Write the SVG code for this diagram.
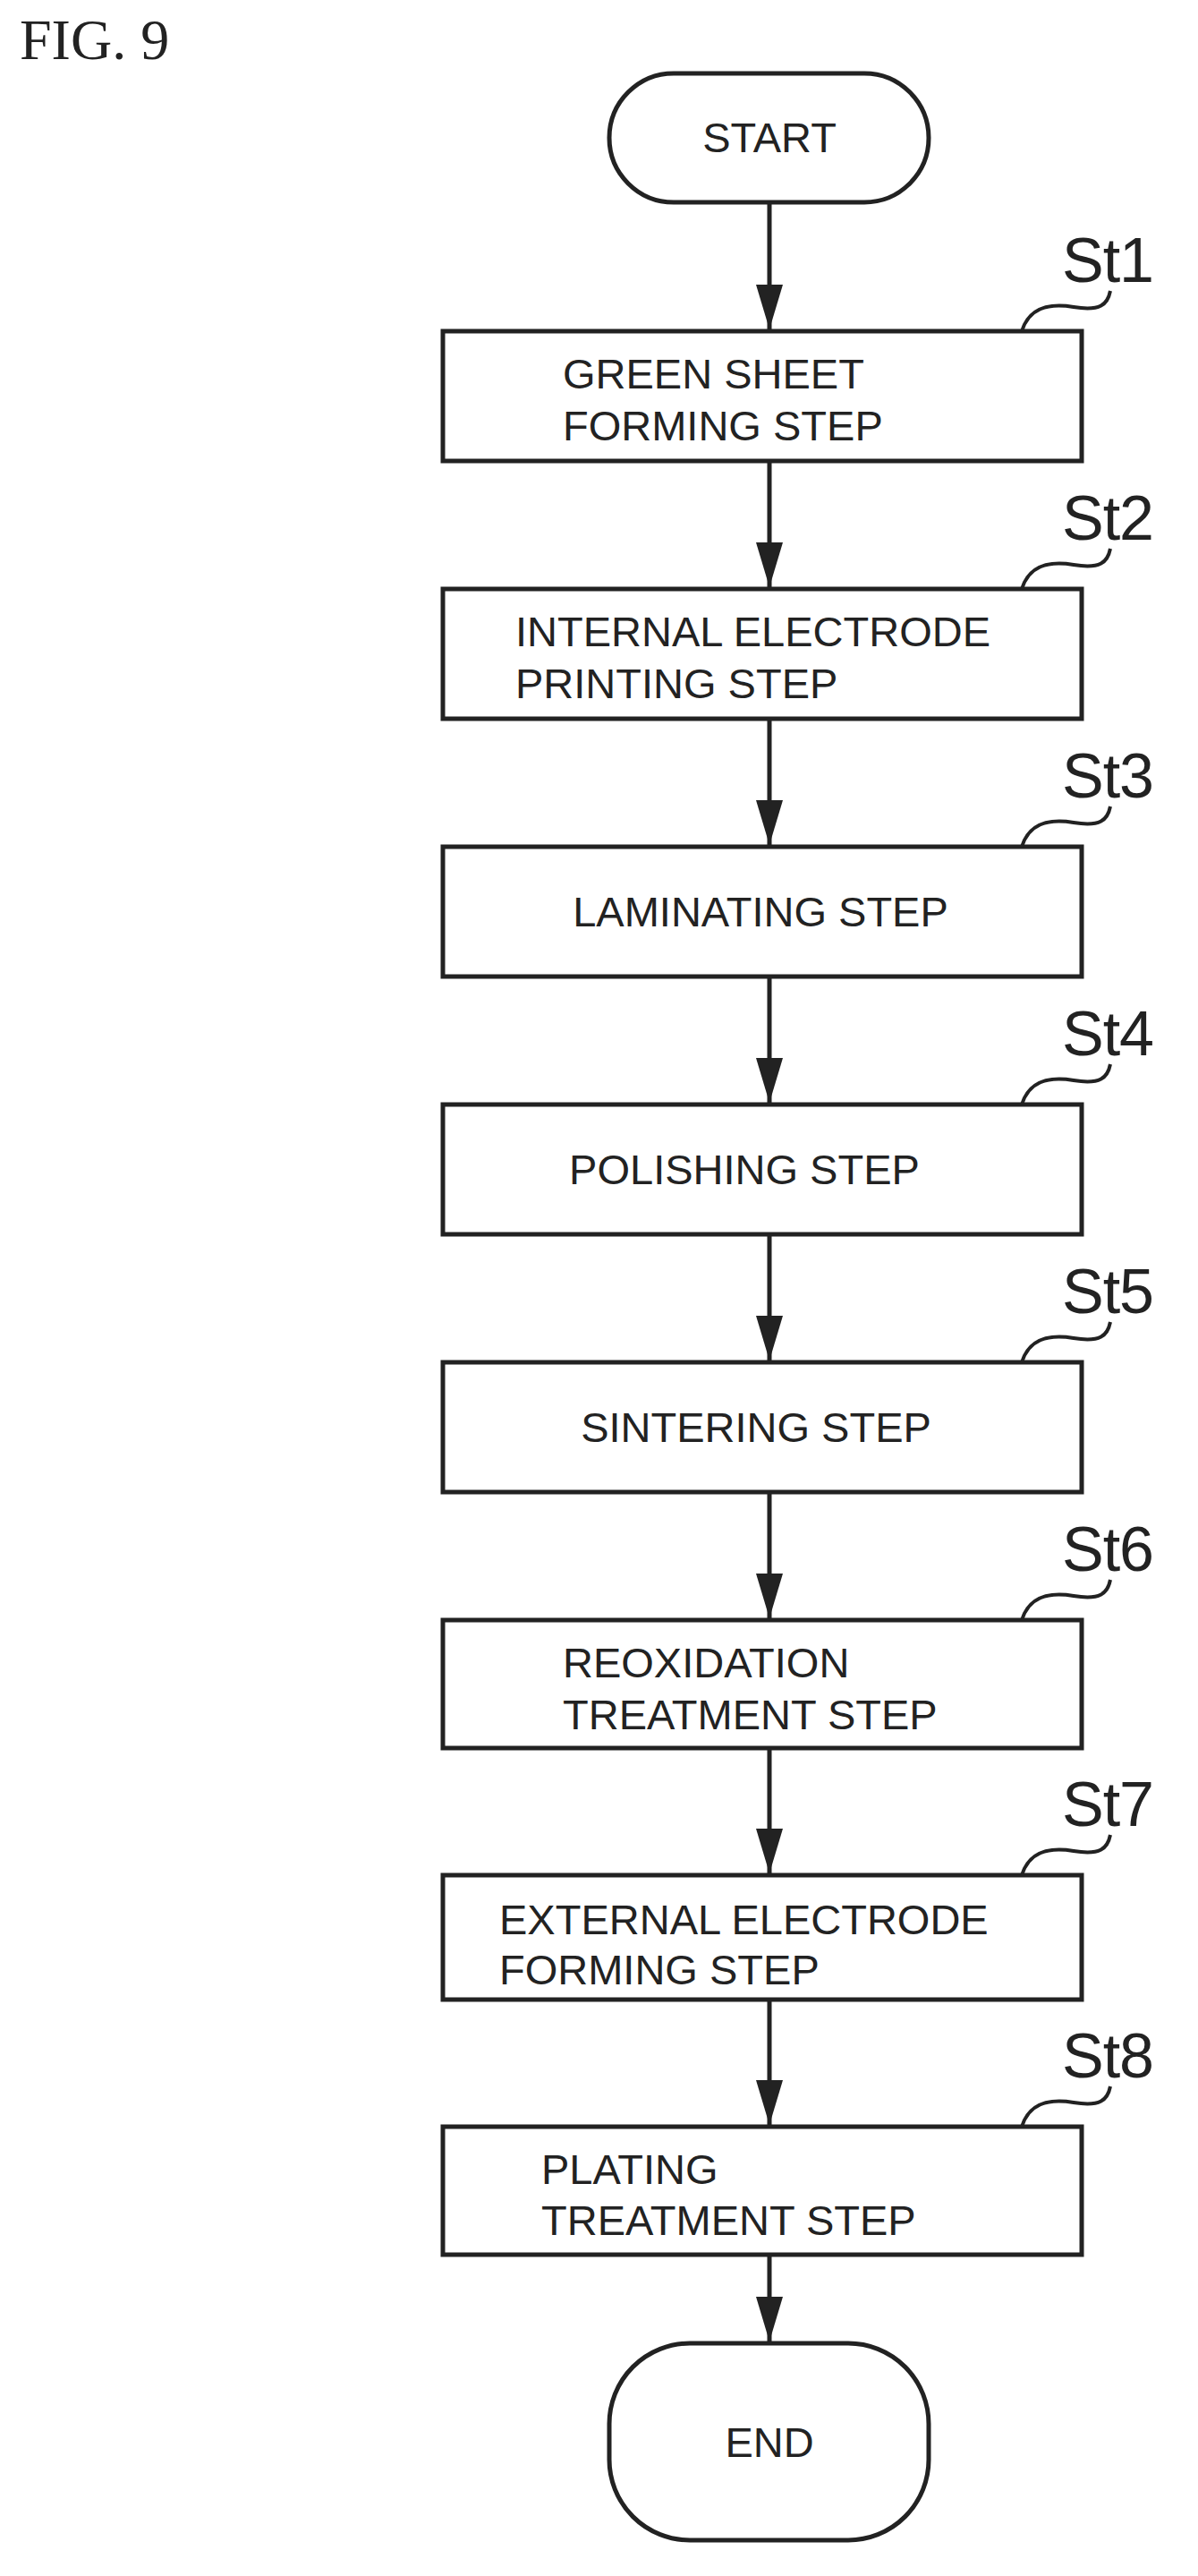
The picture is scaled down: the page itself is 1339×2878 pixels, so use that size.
<svg xmlns="http://www.w3.org/2000/svg" width="1339" height="2878" viewBox="0 0 1339 2878">
<style>
.b{fill:#fff;stroke:#222;stroke-width:5}
.t{font-family:"Liberation Sans",Arial,sans-serif;font-size:47px;fill:#222}
.c{text-anchor:middle}
.l{font-family:"Liberation Sans",Arial,sans-serif;font-size:70px;fill:#222}
.w{fill:none;stroke:#222;stroke-width:4}
.a{stroke:#222;stroke-width:5;fill:none}
</style>
<defs><marker id="ah" markerWidth="50" markerHeight="30" refX="50" refY="15" viewBox="0 0 50 30" orient="auto" markerUnits="userSpaceOnUse"><path d="M0,0 L50,15 L0,30 Z" fill="#222"/></marker></defs>
<text x="22" y="66" font-family="Liberation Serif,serif" font-size="64" fill="#222">FIG. 9</text>
<g id="start"><rect class="b" x="681" y="82" width="357" height="144" rx="72"/><text class="t c" x="860" y="170">START</text></g>
<g id="st1"><rect class="b" x="495" y="370" width="714" height="145"/><text class="t" x="629" y="434">GREEN SHEET</text><text class="t" x="629" y="492">FORMING STEP</text><path class="w" d="M1142,370 C1150,345 1170,338 1200,343 C1230,348 1238,340 1241,325"/><text class="l" x="1187" y="315" textLength="103">St1</text></g>
<g id="st2"><rect class="b" x="495" y="658" width="714" height="145"/><text class="t" x="576" y="722">INTERNAL ELECTRODE</text><text class="t" x="576" y="780">PRINTING STEP</text><path class="w" d="M1142,658 C1150,633 1170,626 1200,631 C1230,636 1238,628 1241,613"/><text class="l" x="1187" y="603" textLength="103">St2</text></g>
<g id="st3"><rect class="b" x="495" y="946" width="714" height="145"/><text class="t c" x="850" y="1035">LAMINATING STEP</text><path class="w" d="M1142,946 C1150,921 1170,914 1200,919 C1230,924 1238,916 1241,901"/><text class="l" x="1187" y="891" textLength="103">St3</text></g>
<g id="st4"><rect class="b" x="495" y="1234" width="714" height="145"/><text class="t c" x="832" y="1323">POLISHING STEP</text><path class="w" d="M1142,1234 C1150,1209 1170,1202 1200,1207 C1230,1212 1238,1204 1241,1189"/><text class="l" x="1187" y="1179" textLength="103">St4</text></g>
<g id="st5"><rect class="b" x="495" y="1522" width="714" height="145"/><text class="t c" x="845" y="1611">SINTERING STEP</text><path class="w" d="M1142,1522 C1150,1497 1170,1490 1200,1495 C1230,1500 1238,1492 1241,1477"/><text class="l" x="1187" y="1467" textLength="103">St5</text></g>
<g id="st6"><rect class="b" x="495" y="1810" width="714" height="143"/><text class="t" x="629" y="1874">REOXIDATION</text><text class="t" x="629" y="1932">TREATMENT STEP</text><path class="w" d="M1142,1810 C1150,1785 1170,1778 1200,1783 C1230,1788 1238,1780 1241,1765"/><text class="l" x="1187" y="1755" textLength="103">St6</text></g>
<g id="st7"><rect class="b" x="495" y="2095" width="714" height="139"/><text class="t" x="558" y="2161">EXTERNAL ELECTRODE</text><text class="t" x="558" y="2217">FORMING STEP</text><path class="w" d="M1142,2095 C1150,2070 1170,2063 1200,2068 C1230,2073 1238,2065 1241,2050"/><text class="l" x="1187" y="2040" textLength="103">St7</text></g>
<g id="st8"><rect class="b" x="495" y="2376" width="714" height="143"/><text class="t" x="605" y="2440">PLATING</text><text class="t" x="605" y="2497">TREATMENT STEP</text><path class="w" d="M1142,2376 C1150,2351 1170,2344 1200,2349 C1230,2354 1238,2346 1241,2331"/><text class="l" x="1187" y="2321" textLength="103">St8</text></g>
<g id="end"><rect class="b" x="681" y="2618" width="357" height="220" rx="90"/><text class="t c" x="860" y="2745">END</text></g>
<g id="connectors">
<path class="a" d="M860,228 V368" marker-end="url(#ah)"/>
<path class="a" d="M860,517 V656" marker-end="url(#ah)"/>
<path class="a" d="M860,805 V944" marker-end="url(#ah)"/>
<path class="a" d="M860,1093 V1232" marker-end="url(#ah)"/>
<path class="a" d="M860,1381 V1520" marker-end="url(#ah)"/>
<path class="a" d="M860,1669 V1808" marker-end="url(#ah)"/>
<path class="a" d="M860,1955 V2093" marker-end="url(#ah)"/>
<path class="a" d="M860,2236 V2374" marker-end="url(#ah)"/>
<path class="a" d="M860,2521 V2616" marker-end="url(#ah)"/>
</g>
</svg>
